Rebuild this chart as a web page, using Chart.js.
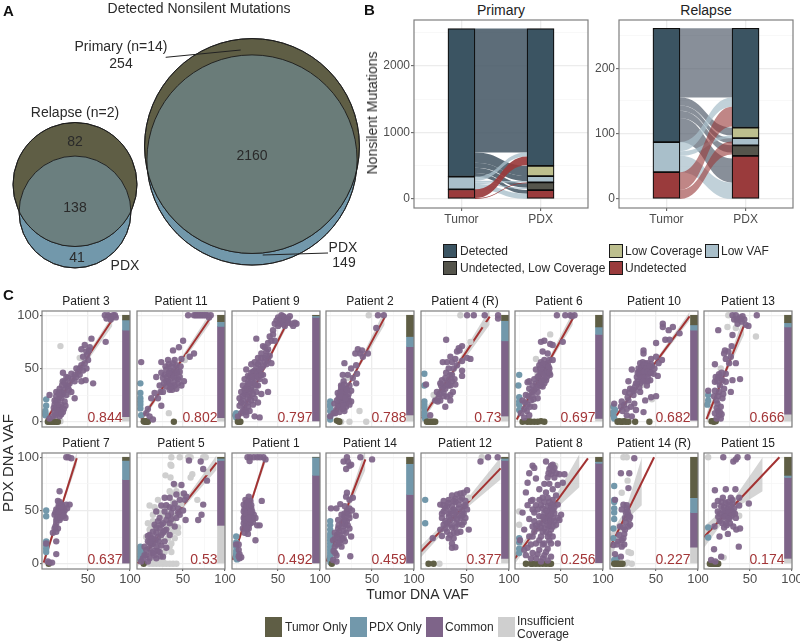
<!DOCTYPE html>
<html lang="en">
<head>
<meta charset="UTF-8">
<title>Nonsilent mutations, tumor vs PDX</title>
<script src="https://cdn.jsdelivr.net/npm/chart.js"></script>
<style>
html, body { margin: 0; padding: 0; background: #fff; overflow: hidden; }
#page { position: absolute; left: 0; top: 0; width: 800px; height: 642px; overflow: hidden; font-family: "Liberation Sans", Arial, sans-serif; }
#page canvas { position: absolute; }
.note { position: absolute; white-space: nowrap; line-height: 1; color: #2a2a2a; }
.swatch { position: absolute; box-sizing: border-box; }
</style>
</head>
<body>
<div id="page"></div>
<script>
// ---- A: venn counts
const relapseCounts = [82, 138, 41];
const primaryCounts = [254, 2160, 149];

// ---- B: strata bottom to top: undetected, undetected low cov, low VAF, low cov, detected
const strataNames = ['Undetected', 'Undetected, Low Coverage', 'Low VAF', 'Low Coverage', 'Detected'];
const primaryTumor = [146, 0, 190, 0, 2227];
const primaryPdx = [135, 115, 96, 154, 2063];
const relapseTumor = [41, 0, 46, 0, 174];
const relapsePdx = [66, 16, 11, 16, 152];
// flows: from stratum, tumor low, tumor high, pdx low, pdx high
const primaryFlows = [
  [4, 700, 2563, 700, 2563], [4, 546, 700, 346, 500], [4, 471, 546, 271, 346], [4, 391, 471, 170, 236], [4, 336, 391, 80, 135],
  [2, 276, 336, 640, 700], [2, 246, 276, 250, 271], [2, 226, 246, 150, 170], [2, 146, 226, 0, 80],
  [0, 14, 146, 508, 640], [0, 0, 14, 236, 250]
];
const relapseFlows = [
  [4, 155, 261, 155, 261], [4, 143, 155, 97, 109], [4, 135, 143, 85, 93], [4, 124, 135, 71, 82], [4, 87, 124, 25, 62],
  [2, 73, 87, 141, 155], [2, 66, 73, 93, 97], [2, 41, 66, 0, 25],
  [0, 14, 41, 111, 141], [0, 0, 14, 68, 88]
];

// ---- C: one row of each per patient
const patientNames = ['Patient 3', 'Patient 11', 'Patient 9', 'Patient 2', 'Patient 4 (R)', 'Patient 6', 'Patient 10', 'Patient 13',
  'Patient 7', 'Patient 5', 'Patient 1', 'Patient 14', 'Patient 12', 'Patient 8', 'Patient 14 (R)', 'Patient 15'];
const correlations = ['0.844', '0.802', '0.797', '0.788', '0.73', '0.697', '0.682', '0.666',
  '0.637', '0.53', '0.492', '0.459', '0.377', '0.256', '0.227', '0.174'];
// stacked side bars: insufficient, common, pdx only, tumor only
const sideBars = [[4.7, 81.3, 9.6, 4.4], [3.8, 85.7, 4.5, 6], [0.6, 97.4, 1.5, 0.5], [6.3, 64.2, 9.5, 20], [5.3, 70.7, 19, 5], [3, 79, 7, 11], [1.5, 84.5, 5, 9], [7, 82, 4, 7],
  [0, 79, 18, 3], [36, 61, 2, 1], [0, 83, 17, 0], [0, 65, 29, 6], [5, 92, 2, 1], [1, 93.3, 1.7, 4], [15.5, 32.5, 14, 38], [5, 76, 2, 17]];
// regression line ends
const fitLines = [[[0, 2], [79, 96]], [[0, 2], [82, 97]], [[1, 0], [64, 98]], [[2, 5], [65, 98]], [[-4, 3], [77, 98.7]], [[-3, 2], [64, 97]], [[-2, 1], [90, 99]], [[-2, 2.5], [43, 91]],
  [[-3, 1], [36.5, 99]], [[-4.4, 0.3], [90, 95]], [[-4.4, 3.5], [35, 100]], [[-4.4, 2], [42, 98]], [[-5, 11.4], [90, 89.6]], [[-5, 5], [82, 99]], [[-4.8, 15.5], [47.6, 100]], [[-5, 25], [85, 100]]];
// confidence band: x, low, high
const fitBands = [
  [[0, -1, 5], [40, 47, 52], [79, 90, 100]], [[0, -1, 5], [41, 47, 52], [82, 92, 102]], [[1, -3, 3], [32, 47, 51], [64, 94, 102]], [[2, 2, 8], [33, 48.5, 53.5], [65, 91, 105]],
  [[-4, -1, 7], [36, 47, 53], [77, 91, 106]], [[-3, -1, 5], [30, 47, 51.5], [64, 91, 103]], [[-2, -1, 3], [44, 48, 52], [90, 95, 103]], [[-2, -3, 8], [20, 43, 49], [43, 82, 100]],
  [[-3, -3, 5], [17, 48, 52], [36.5, 93, 105]], [[-4.4, -3, 4], [43, 46, 50], [90, 88, 102]], [[-4.4, 0, 7], [15, 49, 53], [35, 95, 105]], [[-4.4, -2, 6], [19, 46, 53], [42, 88, 108]],
  [[-5, 6, 17], [43, 48, 54], [90, 79, 100]], [[-5, 0, 10], [35, 45, 52], [72, 72, 103]], [[-4.8, 3, 28], [14, 41, 51], [33, 55, 100]], [[-5, 15, 35], [28, 50, 58], [65, 68, 100]]
];

const common3 = [[70,100],[72,97],[74,100],[76,99],[78,98],[80,100],[82,100],[83,98],[77,96],[54,78],[71,75],[46,72],[52,70],[42,68],[48,66],[44,61],[50,58],[42,53],[48,50],[36,50],[56,36],[30,45],[20,46],[24,42],[40,44],[34,38],[20,38],[16,31],[12,28],[4,25],[26,33],[34,22],[12,19],[18,22],[22,19],[16,14],[10,16],[20,9],[14,8],[8,5],[24,25],[30,28],[42,38],[47,39],[12,24],[18,28],[10,9],[4,3],[16,5],[12,12],[26,41],[34,44],[38,47],[46,55],[14,20],[20,26],[16,24],[24,34],[28,36],[10,20],[18,16],[22,30],[17,12],[13,15],[15,27],[19,34],[22,37],[27,30],[31,40],[36,42],[40,50],[44,48],[49,63],[51,67],[14,10],[11,6],[9,13],[23,15],[21,12],[18,7]];
const pdxOnly3 = [[0,21],[0,15],[-1,10],[-1,8],[-1,6]];
const tumorOnly3 = [[2,0],[4,0],[6,0],[8,0],[10,0],[12,0],[14,0]];
const lowCov3 = [[17,71],[40,60],[44,59],[19,37],[26,26],[17,0.5]];

const common11 = [[56,100],[63,100],[65,100],[67,100],[69,100],[71,100],[73,100],[75,100],[77,100],[79,100],[81,98],[83,100],[50,76],[45,70],[38,67],[0,56],[63,64],[58,61],[48,59],[40,58],[32,58],[24,56],[36,52],[42,53],[30,49],[18,42],[26,41],[34,44],[40,45],[46,47],[51,38],[44,36],[37,34],[30,33],[22,34],[16,27],[12,22],[26,28],[34,30],[42,31],[48,34],[20,22],[24,15],[8,12],[6,8],[14,2],[10,5],[36,41],[32,38],[40,39],[28,44],[38,47],[35,48],[31,42],[44,40],[37,30],[33,54],[38,55],[42,50],[36,44],[30,38],[34,36],[40,34],[46,42],[33,46],[39,42],[27,36],[24,46],[29,52],[35,32],[43,46],[47,52],[23,28]];
const pdxOnly11 = [[-1,36],[-1,27],[-1,22],[-1,19],[-1,16],[-1,12.5],[0,6]];
const tumorOnly11 = [[3,0.5],[4,0],[5,0.5],[6,0],[7,0.5],[8,0],[39,0]];
const lowCov11 = [[33,8],[56,61],[52,58]];

const common9 = [[50,98],[52,96],[54,100],[56,99],[58,98],[60,95],[62,97],[64,99],[66,92],[68,90],[70,93],[72,92],[55,92],[50,90],[46,92],[48,95],[44,86],[40,80],[38,74],[46,76],[32,71],[24,78],[36,66],[30,64],[40,62],[26,60],[34,60],[22,56],[28,56],[36,54],[42,55],[18,54],[24,51],[30,50],[12,49],[20,47],[26,46],[32,44],[16,42],[22,41],[28,40],[34,38],[10,40],[14,37],[20,36],[26,34],[38,28],[8,34],[12,32],[18,30],[24,28],[30,26],[6,28],[10,26],[16,24],[22,22],[4,22],[8,20],[14,18],[20,16],[26,18],[4,15],[10,12],[16,10],[6,8],[12,6],[22,5],[28,4],[18,32],[14,43],[2,5],[52,92],[56,94],[58,90],[62,93],[44,82],[42,76],[34,70],[38,68],[30,60],[34,56],[26,54],[38,58],[22,48],[28,48],[18,46],[24,44],[14,34],[18,38],[22,36],[12,28],[16,28],[20,26],[8,24],[14,22],[18,20],[6,18],[10,16],[14,14],[8,10],[12,9],[20,42],[26,42],[30,44],[24,34],[10,30],[36,62],[32,52],[16,36]];
const pdxOnly9 = [[0,8],[-1,6],[0,4]];
const tumorOnly9 = [[2,0],[3,0.5],[4,0],[5,0]];
const lowCov9 = [[20,30]];

const common2 = [[57,100],[64,100],[55,88],[33,68],[38,67],[30,64],[36,64],[45,64],[39,61],[17,55],[31,53],[15,44],[25,50],[32,45],[21,44],[27,41],[16,38],[31,36],[13,31],[19,31],[25,29],[9,27],[15,25],[21,23],[12,20],[17,19],[25,19],[9,16],[13,14],[19,14],[5,17],[7,11],[17,10],[4,8],[11,9],[0,5],[22,20],[14.5,28],[11,25],[18,27],[23,34],[15,21],[20,18],[13,34],[14,17],[10,22],[16,23],[12,28],[14,33],[17,35],[22,26],[11,14],[15,12],[8,20],[23,16],[6,8],[16,15],[13,24],[20,30],[18,22]];
const pdxOnly2 = [[0,19],[0,16],[0,14],[0,10],[0,5],[0,2]];
const tumorOnly2 = [[10,0.5],[8,1],[11,0]];
const lowCov2 = [[46,100],[35,10],[43,0],[23,0],[13,0],[21,41]];

const common4 = [[50,100],[58,100],[71,100],[87,100],[87,97],[25,77],[44,71],[40,69],[38,66],[41,67],[30,61],[54,59],[36,59],[26,56],[21,56],[32,56],[44,57],[50,60],[44,48],[25,46],[44,43],[32,44],[20,39],[1,35],[28,39],[36,35],[30,34],[19,34],[24,31],[14,28],[22,27],[33,28],[15,19],[30,20],[24,14],[18,20],[12,20],[6,6],[30,25],[26,23.5],[22,33],[17,26],[28,50],[34,50],[24,41],[28,34],[20,30],[16,23],[35,40],[30,44],[26,36],[22,24],[38,53],[32,38],[18,36]];
const pdxOnly4 = [[-1,45],[-1,34],[-1,19],[-1,16],[-1,13],[-1,9],[-1,6],[0,3]];
const tumorOnly4 = [[2,0],[4,0],[6,0],[8,0],[10,0],[12,0]];
const lowCov4 = [[42,100],[71,91],[10,25],[54,75]];

const common6 = [[45,100],[55,100],[61,100],[66,100],[63,99],[30,76],[26,75],[37,73],[40,72],[52,75],[28,66],[34,64],[36,58],[30,58],[40,58],[32,52],[36,50],[28,49],[32,45],[37,44],[28,42],[24,39],[32,39],[20,36],[26,34],[16,34],[12,31],[22,28],[28,33],[8,25],[4,20],[14,20],[10,16],[6,12],[18,14],[2,8],[12,6],[16,25],[10,37],[24,53],[24,44],[20,49],[12,38],[24,34],[30,47],[26,56],[34,55],[30,40],[18,30],[22,22],[30,54],[34,48],[28,54],[33,42],[36,46],[26,46],[30,36],[22,42],[25,50],[35,52],[27,38],[18,40],[21,32],[15,28],[11,24],[7,18],[13,14],[17,21],[9,10],[6,4]];
const pdxOnly6 = [[0,44],[-1,34],[0,23],[0,19],[0,16],[0,11]];
const tumorOnly6 = [[4,0],[8,0.5],[10,0],[12,0.5],[14,0],[18,0],[22,0],[26,0.5],[30,0]];
const lowCov6 = [[37,82],[20,59],[22,45]];

const common10 = [[58,92],[58,89],[70,89],[65,86],[78,83],[61,77],[66,77],[50,74],[35,67],[35,64],[44,59],[50,61],[57,58],[53,55],[21,49],[31,55],[37,55],[29,50],[33,47],[39,50],[45,52],[35,43],[41,45],[47,45],[52,43],[37,39],[43,39],[27,42],[17,38],[31,36],[39,34],[25,33],[19,31],[13,28],[31,28],[23,25],[44,23],[50,24],[37,20],[17,20],[9,19],[0,17],[8,14],[15,12],[26,11],[35,9],[15,6],[21,5],[33,52],[38,46],[42,48],[34,42],[30,44],[36,50],[40,42],[28,38],[34,56],[40,55],[44,54],[32,50],[36,53],[38,50],[42,52],[30,47],[34,45],[36,47],[40,47],[44,46],[32,41],[36,41],[40,38],[34,38],[28,46],[26,36],[30,32],[22,30],[18,27],[24,29],[12,16],[20,14],[16,23],[10,10],[24,17],[48,50]];
const pdxOnly10 = [[-1,14],[-1,9],[-1,6],[0,3],[1,11]];
const tumorOnly10 = [[4,0],[6,0.5],[8,0],[10,0],[12,0.5],[14,0],[17,0],[25,0],[42,0]];
const lowCov10 = [[35,35],[45,21]];

const common13 = [[29,100],[33,100],[41,99],[58,100],[31,96],[37,96],[43,96],[45,91],[48,90],[35,92],[12,86],[29,81.5],[28,71],[20,67],[24,66],[19,64],[21,59],[27,61],[33,55],[8,54],[25,55],[21,45],[13,44.5],[9,42],[15,41],[38,40],[29,39],[21,37.5],[8,37.5],[27,28],[19,31],[13,28],[8,29],[17,22],[10,20],[15,14],[12,10],[8,8],[13,6],[10,3],[15,3],[0,29],[11,38],[16,46],[12,24],[38,98],[34,96],[40,94],[12,42],[17,39],[14,34],[18,26],[10,13],[14,9],[7,24],[11,17],[16,7]];
const pdxOnly13 = [[0,25],[0,20],[-1,16]];
const tumorOnly13 = [[4,0.5],[6,0.5],[7,0],[9,0.5]];
const lowCov13 = [[24,100],[23,89],[57,80],[15,50],[33,88]];

const common7 = [[24,100],[26.5,100],[30,99],[16,68],[14,59],[24,55.5],[28,55.5],[18,56],[15,53],[20,52],[12,51],[16,49],[20.6,48],[10,46],[14,45],[18,45],[23,43],[16,41],[12,41],[10,33],[14,33],[12,30],[8,29],[12,21],[12,9],[0,19],[4,1],[7,1],[2,2],[17,52],[13,48],[14,50],[18,50],[22,50],[11,48],[15,47],[19,47],[13,43],[17,43],[21,45],[12,38],[15,55],[19,54],[25,52],[11,35],[16,58]];
const pdxOnly7 = [[0,50],[0,44.5],[0,21],[0,17],[0,14],[0,11]];
const tumorOnly7 = [[3,0]];
const lowCov7 = [];

const common5 = [[57,97],[71,96],[74,89],[78.5,78],[74,55.5],[72,46],[68,41],[39,75],[48,74],[51,66],[54,63],[42,65],[28,62],[34,62],[46,60],[52,60],[40,56.5],[24,54.6],[34,53],[44,52],[18,49],[28,49],[36,47.6],[46,46],[42,43],[53,41],[22,43],[30,41],[16,36.6],[24,36.6],[34,38],[40,35],[10,27],[18,29],[26,29],[34,27],[8,21],[14,19],[21,21],[28,21],[4,16],[10,14.5],[18,16],[6,8],[14,10],[22,11],[2,5],[10,5],[18,5],[26,6.6],[8,2],[0,2],[12,24],[20,25],[16,12],[30,32],[26,38],[14,30],[22,33],[12,18],[17,22],[24,17],[20,12],[6,13],[12,10],[24,27],[32,45],[38,52],[30,55],[20,40],[8,26],[4,8],[16,8],[23,7],[30,15],[14,24],[28,31],[36,42],[44,48],[50,50],[18,34],[10,20]];
const pdxOnly5 = [[-1,16],[-1,13],[-1,10],[-1,7],[-1,4],[1.5,10]];
const tumorOnly5 = [[3,0]];
const lowCov5 = [[36,100],[46,100],[56,100],[59,100],[74,100],[77,100],[36,92],[35,93],[29,83],[35,81],[61,84],[59,81],[78.5,86],[40,74],[36,66],[42,68],[48,65],[20,60],[67,60],[10,54.6],[16,53],[26,46],[32,46],[14,46],[40,44.5],[6,25],[10,32],[30,30],[38,30],[44,29],[30,36.6],[18,35],[36,19],[28,11],[36,11],[6,11],[10,0],[14,0],[18,0],[22,0],[26,0],[30,0],[34,0],[38,0],[42,0],[20,2],[26,2],[24,24],[32,24],[14,40],[38,40],[28,52],[22,48],[38,58],[44,34],[32,34],[24,30],[20,18],[12,4],[16,2],[40,24],[34,16],[8,38],[12,36],[42,56],[36,36],[48,56],[34,68]];

const common1 = [[13.5,100],[16.7,100],[21,100],[25,100],[28.5,100],[32.5,100],[35,98],[16,96.5],[15,63],[11,60],[17,59],[30.5,59],[9,55.5],[15,55.5],[18,52],[12,53],[9,49],[14,49],[19,49],[11,46],[16,46],[21,46],[9,43],[13,43],[18,43],[23,43],[12,40],[16,40],[20,39],[25,36],[28,36],[11,36],[15,36],[8,33],[13,32],[10,29],[14,28],[23,22],[3,18],[3,13],[4,5],[6,6],[4,9],[0,18],[3,7],[12,57],[14,58],[10,52],[13,50],[16,51],[11,50],[15,47],[18,46],[10,45],[13,46],[17,44],[20,42],[11,41],[14,40],[17,38],[12,37],[15,33],[12,34],[9,38],[13,55],[16,54],[12,47],[17,49],[10,41],[15,43],[18,55]];
const pdxOnly1 = [[0,25.5],[0,20],[0,16],[0,12],[0,9],[0,6],[1,4]];
const tumorOnly1 = [];
const lowCov1 = [];

const common14 = [[20,100],[36,100],[50,98],[16,96],[21,96],[25,93],[23,92],[19,89],[20,66.6],[19,63],[27,62],[23,60],[12,56],[1,52],[7.5,52],[17.5,54],[23,52],[30.5,45],[20,48],[13.5,46],[23,43],[9.5,41],[17.5,41],[9.5,33],[15.5,35],[23,33],[5.5,29],[12,27],[19,29],[25,25.5],[3.5,22],[9.5,21],[17.5,21],[5.5,16],[13.5,16],[24,7],[7.5,8],[3.5,3.5],[7.5,2],[14,24],[8,27],[18,37],[20,50],[17,47],[22,46],[14,38],[20,40],[11,30],[16,31],[21,36],[6,24],[12,22],[16,24],[8,18],[11,19],[4,12],[6,10],[16,43],[26,50],[10,36]];
const pdxOnly14 = [[0,40],[0,36],[0,32],[0,28],[0,25],[0,22],[0,19],[0,16],[0,13],[0,10],[0,7],[0,4],[0.5,1]];
const tumorOnly14 = [[2,0]];
const lowCov14 = [];

const common12 = [[66,96],[75,100],[86.5,100],[50,69],[46,66.6],[38,65],[32,64],[22,59],[28,60],[34,59],[42,60],[48,59],[18,55.5],[26,54],[32,54],[40,55.5],[46,54],[22,49],[30,49],[36,49],[44,49],[50,51],[20,43],[28,44],[34,43],[42,43],[48,43],[22,36.6],[30,36.6],[37,38],[44,36.6],[52,32],[18,32],[26,30],[34,29],[42,30],[9,24],[20,26],[28,24],[32,19],[36,15.5],[32,15],[38,46],[24,40],[36,58],[44,62],[40,52],[46,47],[24,52],[34,51],[28,47],[38,42],[44,45],[40,37],[32,34],[26,38],[36,34],[30,41],[48,55],[42,66],[36,61],[20,47],[34,24],[38,29],[30,27],[24,33],[46,39],[22,55],[28,57],[34,47]];
const pdxOnly12 = [[0,60],[0,38]];
const tumorOnly12 = [[4,0],[10,0]];
const lowCov12 = [[67.5,100],[52,62],[17,0]];

const common8 = [[32,96],[18,90],[40,93],[36,89],[42,90],[44,85],[38,84],[48,84],[34,81],[42,81],[54,84],[52,76],[46,74],[32,67],[28,62],[24,60],[16,60],[34,62],[40,60],[46,55.5],[50,46],[48,41],[40,55.5],[34,54],[28,52],[22,51],[16,51],[36,49],[30,47.6],[42,47.6],[24,44.5],[34,43],[40,43],[46,43],[18,40],[28,38],[36,38],[44,36.6],[22,33],[30,33],[38,32],[46,19],[16,25.5],[26,25.5],[34,25.5],[40,25.5],[20,19],[30,19],[38,19],[24,13],[32,11],[38,6.6],[28,5],[20,5],[14,5],[34,3],[26,2],[12,85],[10,76],[16,92],[8,67],[14,59],[4,48],[18,48],[6,32],[12,25.5],[1,22],[6,13],[16,10],[36,44],[32,40],[38,55],[30,58],[26,34],[36,28],[38,52],[36,58],[40,50],[34,48],[38,46],[32,50],[42,53],[30,42],[36,35],[40,35],[34,36],[28,44],[38,40],[42,40],[32,30],[36,22],[28,30],[24,38],[20,36],[16,35],[12,42],[10,55],[20,55],[26,55],[24,70],[20,80],[30,75],[36,75],[40,70],[44,64],[10,15],[24,22],[28,18],[34,14],[30,8],[22,9],[8,8],[14,18],[18,30],[40,87],[38,92],[35,85]];
const pdxOnly8 = [[0,24],[0,20],[0,14],[0,10]];
const tumorOnly8 = [[8,0],[14,0],[16,0],[20,0],[24,0],[28,0],[32,0],[36,0],[38,0]];
const lowCov8 = [[0,49],[0,36.6],[43,92],[42,35]];

const common14r = [[24,99],[8,85],[18,85],[17,71],[1,60],[11,55.5],[15,52],[9,51],[17,46],[13,43],[7,35],[17,35],[13,32],[19,36.6],[11,24],[5,21],[-1,17.6],[9,16],[1,9],[8,6.6],[14,48],[12,28],[16,49],[19,44],[14,39],[11,34],[9,22],[12,18],[3,18],[18,42],[15,55],[6,27]];
const pdxOnly14r = [[0,73],[0,60],[0,58],[0,52],[0,48],[0,42],[-1,33],[-1,24],[0,3.5],[3,5]];
const tumorOnly14r = [[0,0],[2,0],[4,0],[6,0],[8,0],[10,0]];
const lowCov14r = [[11,100],[15,100],[16,78],[9,66.6],[17,11],[20,10],[13,0],[21,0],[16,1]];

const common15 = [[18,100],[35,100],[47,100],[30,96],[33,98],[8,69],[21,70],[32.5,70],[48.5,56.5],[27,62],[37,62],[17.5,62],[11.5,59],[21,57],[29,56.5],[7.5,54.6],[15.5,54],[23.5,52],[31,52],[37,54.6],[11.5,49],[19.5,48],[27,47.6],[17.5,44],[25.5,43],[33,43],[13.5,40],[21,38],[30,35],[38,33],[33.5,32],[7.5,35],[13.5,25.5],[23.5,28],[36.5,16],[7,13.5],[15.5,6.6],[3.5,3.5],[8.5,2],[24,58],[19,53],[28,50],[22,46],[26,55],[22,50],[18,50],[14,47],[24,48],[30,48],[20,44],[28,45],[24,42],[17,38],[26,38],[22,36],[16,58],[32,47],[29,60],[12,44],[19,34]];
const pdxOnly15 = [[0,34],[0,24.6]];
const tumorOnly15 = [[2,0],[4,0],[6,0],[8,0],[10,0],[11,0],[12,0]];
const lowCov15 = [[0,100],[11.5,44],[37,45],[18.5,5.7]];

const commonPoints = [common3, common11, common9, common2, common4, common6, common10, common13, common7, common5, common1, common14, common12, common8, common14r, common15];
const pdxPoints = [pdxOnly3, pdxOnly11, pdxOnly9, pdxOnly2, pdxOnly4, pdxOnly6, pdxOnly10, pdxOnly13, pdxOnly7, pdxOnly5, pdxOnly1, pdxOnly14, pdxOnly12, pdxOnly8, pdxOnly14r, pdxOnly15];
const tumorPoints = [tumorOnly3, tumorOnly11, tumorOnly9, tumorOnly2, tumorOnly4, tumorOnly6, tumorOnly10, tumorOnly13, tumorOnly7, tumorOnly5, tumorOnly1, tumorOnly14, tumorOnly12, tumorOnly8, tumorOnly14r, tumorOnly15];
const lowCovPoints = [lowCov3, lowCov11, lowCov9, lowCov2, lowCov4, lowCov6, lowCov10, lowCov13, lowCov7, lowCov5, lowCov1, lowCov14, lowCov12, lowCov8, lowCov14r, lowCov15];

// colours
const OLIVE = '#5f5e45', BLUE = '#7298ab', PURPLE = '#7e6489', GREY = '#cfcfcf', RED = '#a33232';
const strataColors = ['#9a3b3c', '#55554c', '#a9bfca', '#bdbf8e', '#3b5462'];
const TICK = '#4d4d4d', GRID_MAJOR = '#ececec', GRID_MINOR = '#f5f5f5';
const FONT = '"Liberation Sans", Arial, sans-serif';

const page = document.getElementById('page');

function addCanvas(left, top, w, h) {
  const c = document.createElement('canvas');
  c.width = w; c.height = h;
  c.style.left = left + 'px'; c.style.top = top + 'px';
  c.style.width = w + 'px'; c.style.height = h + 'px';
  page.appendChild(c);
  return c;
}

// text helper, y is the text's vertical centre
function note(text, x, y, size, align, extra) {
  const d = document.createElement('div');
  d.className = 'note';
  d.textContent = text;
  const shift = align === 'center' ? '-50%' : align === 'right' ? '-100%' : '0';
  d.style.left = x + 'px';
  d.style.top = y + 'px';
  d.style.fontSize = size + 'px';
  d.style.transform = 'translate(' + shift + ',-50%)' + (extra && extra.rotate ? ' rotate(-90deg)' : '');
  if (extra && extra.bold) d.style.fontWeight = 'bold';
  if (extra && extra.color) d.style.color = extra.color;
  page.appendChild(d);
}

function swatch(x, y, w, h, color, border) {
  const d = document.createElement('div');
  d.className = 'swatch';
  d.style.cssText = 'left:' + x + 'px;top:' + y + 'px;width:' + w + 'px;height:' + h + 'px;background:' + color + ';' + (border ? 'border:1px solid ' + border + ';' : '');
  page.appendChild(d);
}

// grey frame round the panel
const panelFrame = {
  id: 'panelFrame',
  afterDraw(chart) {
    const a = chart.chartArea, ctx = chart.ctx;
    ctx.save();
    ctx.strokeStyle = '#7f7f7f';
    ctx.lineWidth = 1.2;
    ctx.strokeRect(a.left, a.top, a.right - a.left, a.bottom - a.top);
    ctx.restore();
  }
};

function fixedTicks(values, labelled, shown, tickLen, fontSize, padding, labelOf) {
  return {
    afterBuildTicks(scale) { scale.ticks = values.map(v => ({ value: v })); },
    ticks: {
      display: shown, autoSkip: false, maxRotation: 0, padding: padding, color: TICK,
      font: { family: FONT, size: fontSize },
      callback: v => labelled.includes(v) ? (labelOf ? labelOf(v) : String(v)) : ''
    },
    grid: {
      drawTicks: shown, tickLength: tickLen, offset: false,
      color: c => labelled.includes(c.tick ? c.tick.value : null) ? GRID_MAJOR : GRID_MINOR,
      lineWidth: c => labelled.includes(c.tick ? c.tick.value : null) ? 1.3 : 0.7,
      tickColor: c => labelled.includes(c.tick ? c.tick.value : null) ? '#555' : 'transparent',
      tickWidth: 1
    },
    border: { display: false }
  };
}

// ---- A: venn, drawn as bubbles on a plain scale
const vennK = [4.18, 2.187];
const vennCentreX = [75, 252];
const vennTumorY = [184.5, 146];
const vennPdxY = [212, 160];
const vennCounts = [relapseCounts, primaryCounts];

const vennOverlap = {
  id: 'vennOverlap',
  afterDatasetDraw(chart, args) {
    if (args.index !== 0) return;
    const tumor = chart.getDatasetMeta(0).data, pdx = chart.getDatasetMeta(1).data, ctx = chart.ctx;
    tumor.forEach((t, i) => {
      const p = pdx[i];
      ctx.save();
      ctx.beginPath();
      ctx.arc(t.x, t.y, t.options.radius, 0, Math.PI * 2);
      ctx.clip();
      ctx.beginPath();
      ctx.arc(p.x, p.y, p.options.radius, 0, Math.PI * 2);
      ctx.fillStyle = i ? '#6a7c79' : '#6b7f7f';
      ctx.fill();
      ctx.restore();
      ctx.beginPath();
      ctx.arc(p.x, p.y, p.options.radius, 0, Math.PI * 2);
      ctx.moveTo(t.x + t.options.radius, t.y);
      ctx.arc(t.x, t.y, t.options.radius, 0, Math.PI * 2);
      ctx.strokeStyle = '#1c1c1c';
      ctx.lineWidth = 0.9;
      ctx.stroke();
    });
  }
};

new Chart(addCanvas(0, 0, 362, 280), {
  type: 'bubble',
  data: {
    datasets: [
      { label: 'Tumor', order: 2, backgroundColor: OLIVE, borderColor: '#1c1c1c', borderWidth: 0.9,
        data: vennCounts.map((c, i) => ({ x: vennCentreX[i], y: vennTumorY[i], r: vennK[i] * Math.sqrt(c[0] + c[1]) })) },
      { label: 'PDX', order: 3, backgroundColor: BLUE, borderColor: '#1c1c1c', borderWidth: 0.9,
        data: vennCounts.map((c, i) => ({ x: vennCentreX[i], y: vennPdxY[i], r: vennK[i] * Math.sqrt(c[1] + c[2]) })) },
      { type: 'line', order: 0, data: [[165.7, 57.3], [240.7, 50]], borderColor: '#222', borderWidth: 1, pointRadius: 0 },
      { type: 'line', order: 0, data: [[328, 253], [262.7, 255]], borderColor: '#222', borderWidth: 1, pointRadius: 0 }
    ]
  },
  options: {
    responsive: false, animation: false, events: [],
    layout: { autoPadding: false },
    plugins: { legend: { display: false }, tooltip: { enabled: false } },
    scales: {
      x: { type: 'linear', min: 0, max: 362, display: false },
      y: { type: 'linear', min: 0, max: 280, reverse: true, display: false }
    }
  },
  plugins: [vennOverlap]
});

// ---- B: alluvial, bars plus ribbons between the two columns
const alluvialFlows = {
  id: 'alluvialFlows',
  beforeDatasetsDraw(chart, args, opts) {
    const ctx = chart.ctx, x = chart.scales.x, y = chart.scales.y, half = opts.barWidth / 2;
    const x0 = x.getPixelForValue(1) + half, x1 = x.getPixelForValue(2) - half, mid = (x0 + x1) / 2;
    ctx.save();
    opts.flows.forEach(f => {
      const a = y.getPixelForValue(f[1]), b = y.getPixelForValue(f[2]);
      const c = y.getPixelForValue(f[3]), d = y.getPixelForValue(f[4]);
      ctx.beginPath();
      ctx.moveTo(x0, b);
      ctx.bezierCurveTo(mid, b, mid, d, x1, d);
      ctx.lineTo(x1, c);
      ctx.bezierCurveTo(mid, c, mid, a, x0, a);
      ctx.closePath();
      ctx.fillStyle = opts.fills[f[0]];
      ctx.fill();
    });
    ctx.restore();
  }
};

function floats(values) {
  let sum = 0;
  return values.map(v => { const a = sum; sum += v; return [a, sum]; });
}

function alluvial(left, title, tumor, pdx, flows, yMin, yMax, yTicks, yLabels, fills) {
  const pad = 40, w = 174, h = 188, top = 20;
  const bar = x => v => ({ x: x, y: v });
  const barOpts = { borderColor: '#0d0d0d', borderWidth: 1.2, borderSkipped: false, barThickness: 27, backgroundColor: strataColors, grouped: false };
  note(title, left + w / 2, 9.5, 14, 'center', { color: '#222' });
  new Chart(addCanvas(left - pad, 0, w + pad * 2, top + h + 20), {
    type: 'bar',
    data: {
      datasets: [
        Object.assign({ data: floats(tumor).map(bar(1)) }, barOpts),
        Object.assign({ data: floats(pdx).map(bar(2)) }, barOpts)
      ]
    },
    options: {
      responsive: false, animation: false, events: [],
      layout: { autoPadding: false, padding: { top: top, left: 0, right: pad, bottom: 0 } },
      plugins: {
        legend: { display: false }, tooltip: { enabled: false },
        alluvialFlows: { flows: flows, fills: fills, barWidth: 27 }
      },
      scales: {
        x: Object.assign(fixedTicks([1, 2], [1, 2], true, 3, 12, 1, v => v === 1 ? 'Tumor' : 'PDX'), {
          type: 'linear', min: 0.4, max: 2.6, offset: false,
          afterFit(s) { s.height = 20; }
        }),
        y: Object.assign(fixedTicks(yTicks, yLabels, true, 3, 12, 1), {
          type: 'linear', min: yMin, max: yMax,
          afterFit(s) { s.width = pad; }
        })
      }
    },
    plugins: [alluvialFlows, panelFrame]
  });
}

alluvial(414, 'Primary', primaryTumor, primaryPdx, primaryFlows, -135, 2692, [0, 500, 1000, 1500, 2000, 2500], [0, 1000, 2000],
  ['rgba(154,59,60,.92)', '', 'rgba(169,191,202,.8)', '', 'rgba(66,85,99,.86)']);
alluvial(619, 'Relapse', relapseTumor, relapsePdx, relapseFlows, -13.8, 273.7, [0, 50, 100, 150, 200, 250], [0, 100, 200],
  ['rgba(154,59,60,.62)', '', 'rgba(169,191,202,.72)', '', 'rgba(75,85,100,.66)']);

// ---- C: the sixteen scatter panels
const panelLefts = [42, 137, 232, 326, 421, 515, 610, 704];
const panelTops = [311, 453];
const PW = 88, PH = 116, PAD = 30, TITLE_H = 18, BELOW = 20;

const rHeadline = {
  id: 'rHeadline',
  afterDatasetsDraw(chart, args, opts) {
    const ctx = chart.ctx, a = chart.chartArea;
    ctx.save();
    ctx.font = '14px ' + FONT;
    ctx.fillStyle = '#a33638';
    ctx.textAlign = 'right';
    ctx.textBaseline = 'alphabetic';
    ctx.fillText(opts.text, chart.scales.x.getPixelForValue(91), a.bottom - 5);
    ctx.restore();
  }
};

const barColors = [GREY, PURPLE, BLUE, OLIVE];

patientNames.forEach((name, i) => {
  const col = i % 8, row = i < 8 ? 0 : 1;
  const firstCol = col === 0, lastRow = row === 1;
  const band = fitBands[i];
  const scatterDs = (points, color, order) => ({ type: 'scatter', data: points, backgroundColor: color, borderWidth: 0, pointRadius: 3.2, order: order });
  const canvas = addCanvas(panelLefts[col] - PAD, panelTops[row] - TITLE_H, PW + PAD * 2, PH + TITLE_H + BELOW);
  note(name, panelLefts[col] + PW / 2, panelTops[row] - 10.3, 12, 'center', { color: '#222' });
  new Chart(canvas, {
    type: 'scatter',
    data: {
      datasets: [
        { type: 'bar', data: floats(sideBars[i]).map(v => ({ x: 95.5, y: v })), backgroundColor: barColors, barThickness: 7.5, grouped: false, order: 0 },
        scatterDs(commonPoints[i], 'rgba(126,100,137,.93)', 1),
        scatterDs(tumorPoints[i], OLIVE, 2),
        scatterDs(pdxPoints[i], BLUE, 3),
        scatterDs(lowCovPoints[i], GREY, 4),
        { type: 'line', data: fitLines[i], borderColor: RED, borderWidth: 2, pointRadius: 0, order: 5 },
        { type: 'line', data: band.map(b => [b[0], b[2]]), borderWidth: 0, pointRadius: 0, fill: '+1', backgroundColor: 'rgba(185,185,185,.6)', order: 6 },
        { type: 'line', data: band.map(b => [b[0], b[1]]), borderWidth: 0, pointRadius: 0, order: 7 }
      ]
    },
    options: {
      responsive: false, animation: false, events: [],
      layout: { autoPadding: false, padding: { top: TITLE_H, right: PAD } },
      plugins: {
        legend: { display: false }, tooltip: { enabled: false },
        rHeadline: { text: correlations[i] }
      },
      scales: {
        x: Object.assign(fixedTicks([0, 25, 50, 75, 100], [50, 100], lastRow, 2, 13, 1), {
          type: 'linear', min: -5, max: 100, offset: false,
          afterFit(s) { s.height = BELOW; }
        }),
        y: Object.assign(fixedTicks([0, 25, 50, 75, 100], [0, 50, 100], firstCol, 2, 13, 1), {
          type: 'linear', min: -5, max: 104,
          afterFit(s) { s.width = PAD; }
        })
      }
    },
    plugins: [rHeadline, panelFrame]
  });
});

// ---- text and legends
note('A', 3, 10, 15, 'left', { bold: true, color: '#111' });
note('B', 364, 9, 15, 'left', { bold: true, color: '#111' });
note('C', 3, 294, 15, 'left', { bold: true, color: '#111' });
note('Detected Nonsilent Mutations', 199, 8, 14, 'center');
note('Primary (n=14)', 121, 46, 14, 'center');
note('254', 121, 63, 14, 'center');
note('Relapse (n=2)', 75, 111.5, 14, 'center');
note('82', 75, 141, 14, 'center');
note('138', 75, 207, 14, 'center');
note('41', 77, 257, 14, 'center');
note('PDX', 125, 265, 14, 'center');
note('2160', 252, 155, 14, 'center');
note('PDX', 343, 247, 14, 'center');
note('149', 344, 262, 14, 'center');
note('Nonsilent Mutations', 371.5, 113, 14, 'center', { rotate: true });
note('PDX DNA VAF', 7, 463, 15, 'center', { rotate: true });
note('Tumor DNA VAF', 417.5, 594, 14, 'center');

const B_BORDER = '#1a1a1a';
swatch(443, 244, 14, 14, strataColors[4], B_BORDER); note(strataNames[4], 460, 251, 12, 'left');
swatch(443, 261, 14, 14, strataColors[1], B_BORDER); note(strataNames[1], 460, 268, 12, 'left');
swatch(609, 244, 14, 14, strataColors[3], B_BORDER); note(strataNames[3], 625, 251, 12, 'left');
swatch(609, 261, 14, 14, strataColors[0], B_BORDER); note(strataNames[0], 625, 268, 12, 'left');
swatch(705, 244, 14, 14, strataColors[2], B_BORDER); note(strataNames[2], 721, 251, 12, 'left');

swatch(265, 617, 17, 20, OLIVE); note('Tumor Only', 285, 627, 12, 'left');
swatch(350, 617, 17, 20, BLUE); note('PDX Only', 369, 627, 12, 'left');
swatch(426, 617, 17, 20, PURPLE); note('Common', 445, 627, 12, 'left');
swatch(498, 617, 17, 20, GREY); note('Insufficient', 517, 620.5, 12, 'left'); note('Coverage', 517, 634, 12, 'left');
</script>
</body>
</html>
